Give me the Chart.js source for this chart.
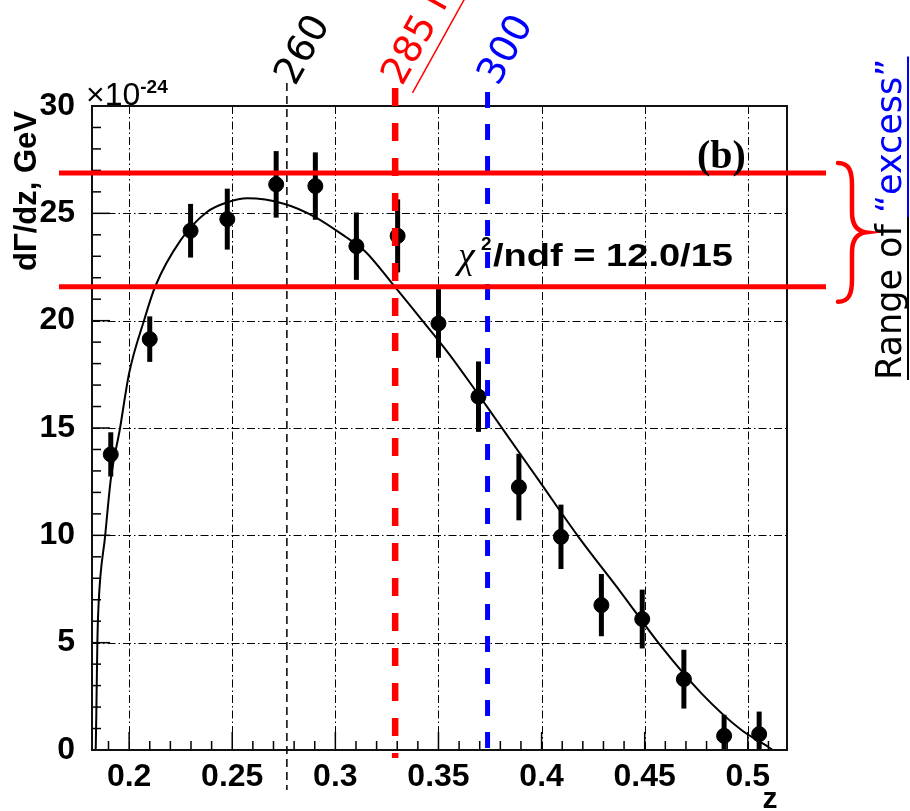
<!DOCTYPE html>
<html>
<head>
<meta charset="utf-8">
<script src="https://cdn.jsdelivr.net/npm/chart.js@4.4.1/dist/chart.umd.min.js"></script>
<style>
  html, body { margin: 0; padding: 0; background: #fff; }
  #wrap { width: 910px; height: 811px; }
</style>
</head>
<body>
<div id="wrap"><canvas id="myChart" width="910" height="811"></canvas></div>
<script>
// fit curve
const curveZ = [0.1838, 0.1841, 0.1846, 0.1852, 0.1884, 0.1911, 0.1955, 0.2000, 0.2073, 0.2126,
  0.2250, 0.2379, 0.2476, 0.2573, 0.2750, 0.2900, 0.3049, 0.3146, 0.3275, 0.3420,
  0.3549, 0.3678, 0.3742, 0.3985, 0.4178, 0.4388, 0.4581, 0.4775, 0.4969, 0.5098, 0.5120];
const curveY = [0, 1.7, 5.0, 6.8, 10.0, 12.6, 14.94, 17.55, 20.03, 21.58,
  23.75, 25.07, 25.51, 25.70, 25.45, 24.84, 23.91, 23.21, 21.74, 20.03,
  18.48, 16.77, 15.90, 12.58, 9.94, 7.30, 4.81, 2.64, 0.93, 0.15, 0];

// measured points with errors
const pointZ = [0.1911, 0.2100, 0.2298, 0.2476, 0.2713, 0.2903, 0.3102, 0.3302, 0.3500,
  0.3694, 0.3890, 0.4094, 0.4290, 0.4488, 0.4690, 0.4885, 0.5055];
const pointY = [13.77, 19.14, 24.19, 24.73, 26.35, 26.27, 23.47, 23.95, 19.87,
  16.46, 12.25, 9.93, 6.75, 6.10, 3.30, 0.66, 0.74];
const pointErr = [1.03, 1.06, 1.25, 1.42, 1.55, 1.57, 1.57, 1.70, 1.60,
  1.64, 1.55, 1.50, 1.45, 1.37, 1.37, 0.98, 1.05];

const xTicks = [0.2, 0.25, 0.3, 0.35, 0.4, 0.45, 0.5];
const xTickLabels = ['0.2', '0.25', '0.3', '0.35', '0.4', '0.45', '0.5'];
const yTicks = [0, 5, 10, 15, 20, 25, 30];
const yTickLabels = ['0', '5', '10', '15', '20', '25', '30'];

// mass markers and the "excess" band
const markZ = [0.2765, 0.329, 0.3738];
const markLabels = ['260', '285 MeV', '300'];
const markColors = ['#000000', '#ff0000', '#0000ff'];
const rangeY = [26.88, 21.58];

function line(ctx, x1, y1, x2, y2) {
  ctx.beginPath();
  ctx.moveTo(x1, y1);
  ctx.lineTo(x2, y2);
  ctx.stroke();
}

function rotText(ctx, txt, x0, y0, color, deg, font) {
  ctx.save();
  ctx.translate(x0, y0);
  ctx.rotate(deg * Math.PI / 180);
  ctx.font = font;
  ctx.fillStyle = color;
  ctx.textAlign = 'left';
  ctx.textBaseline = 'alphabetic';
  ctx.fillText(txt, 0, 0);
  ctx.restore();
}

const decor = {
  id: 'decor',
  beforeDatasetsDraw(chart) {
    const { ctx, chartArea: a, scales: { x, y } } = chart;
    ctx.save();
    // dash-dot grid
    ctx.strokeStyle = '#000';
    ctx.lineWidth = 1;
    ctx.setLineDash([8, 3, 1.5, 3]);
    xTicks.forEach(v => {
      const px = Math.round(x.getPixelForValue(v)) + 0.5;
      line(ctx, px, a.top, px, a.bottom);
    });
    yTicks.forEach(v => {
      const py = Math.round(y.getPixelForValue(v)) + 0.5;
      line(ctx, a.left, py, a.right, py);
    });
    // minor ticks
    ctx.setLineDash([]);
    ctx.lineWidth = 1.5;
    for (let k = 19; k <= 51; k++) {
      const px = x.getPixelForValue(k / 100);
      line(ctx, px, a.bottom, px, a.bottom - (k % 5 ? 9 : 18));
    }
    for (let k = 0; k <= 30; k++) {
      const py = y.getPixelForValue(k);
      line(ctx, a.left, py, a.left + (k % 5 ? 9 : 18), py);
    }
    // error bars
    ctx.beginPath();
    ctx.rect(a.left, a.top, a.right - a.left, a.bottom - a.top);
    ctx.clip();
    ctx.lineWidth = 5;
    pointZ.forEach((z, i) => {
      const px = x.getPixelForValue(z);
      line(ctx, px, y.getPixelForValue(pointY[i] - pointErr[i]), px, y.getPixelForValue(pointY[i] + pointErr[i]));
    });
    ctx.restore();
  },
  afterDatasetsDraw(chart) {
    const { ctx, chartArea: a, scales: { x, y } } = chart;
    ctx.save();
    // frame
    ctx.strokeStyle = '#111';
    ctx.lineWidth = 2;
    ctx.strokeRect(a.left, a.top, a.right - a.left, a.bottom - a.top);

    // vertical mass lines
    const px0 = markZ.map(v => x.getPixelForValue(v));
    ctx.strokeStyle = markColors[0];
    ctx.lineWidth = 1.5;
    ctx.setLineDash([8, 5]);
    line(ctx, px0[0], 83, px0[0], 790);
    ctx.strokeStyle = markColors[1];
    ctx.lineWidth = 6.5;
    ctx.setLineDash([18, 17]);
    line(ctx, px0[1], 88, px0[1], 758);
    ctx.strokeStyle = markColors[2];
    ctx.lineWidth = 5;
    ctx.setLineDash([16, 16]);
    line(ctx, px0[2], 92, px0[2], 758);
    ctx.setLineDash([]);

    // red band lines
    ctx.strokeStyle = '#ff0000';
    ctx.lineWidth = 5;
    rangeY.forEach(v => {
      const py = y.getPixelForValue(v);
      line(ctx, 59, py, 826, py);
    });

    // brace
    const t = y.getPixelForValue(rangeY[0]) - 10;
    const b = y.getPixelForValue(rangeY[1]) + 15;
    const m = (t + b) / 2;
    ctx.lineWidth = 4.5;
    ctx.lineCap = 'round';
    ctx.beginPath();
    ctx.moveTo(838, t);
    ctx.bezierCurveTo(849, t, 852, t + 8, 852, t + 22);
    ctx.lineTo(852, m - 20);
    ctx.bezierCurveTo(852, m - 6, 858, m - 1, 866, m);
    ctx.bezierCurveTo(858, m + 1, 852, m + 6, 852, m + 20);
    ctx.lineTo(852, b - 22);
    ctx.bezierCurveTo(852, b - 8, 849, b, 838, b);
    ctx.stroke();
    ctx.lineCap = 'butt';

    // rotated mass labels
    const lf = '38px "DejaVu Sans"';
    rotText(ctx, markLabels[0], 295, 87, markColors[0], -61, lf);
    rotText(ctx, markLabels[1], 402, 87, markColors[1], -61, lf);
    rotText(ctx, markLabels[2], 498, 87, markColors[2], -61, lf);
    // underline of 285
    const ang = -61 * Math.PI / 180;
    ctx.strokeStyle = '#ff0000';
    ctx.lineWidth = 1.5;
    const ux = 402 + 12 * Math.sin(-ang), uy = 87 + 12 * Math.cos(ang);
    line(ctx, ux, uy, ux + 200 * Math.cos(ang), uy + 200 * Math.sin(ang));

    // axis titles
    ctx.fillStyle = '#000';
    ctx.save();
    ctx.translate(27, 191);
    ctx.rotate(-Math.PI / 2);
    ctx.font = 'bold 31px "Liberation Sans"';
    ctx.textAlign = 'center';
    ctx.textBaseline = 'middle';
    ctx.fillText('d\u0393/dz, GeV', 0, 0);
    ctx.restore();

    ctx.font = 'bold 30px "Liberation Sans"';
    ctx.textAlign = 'center';
    ctx.textBaseline = 'alphabetic';
    ctx.fillText('z', 770, 808);

    // exponent
    ctx.textAlign = 'left';
    ctx.font = '32px "Liberation Sans"';
    ctx.fillText('\u00d710', 86, 105);
    const ew = ctx.measureText('\u00d710').width;
    ctx.font = 'bold 19px "Liberation Sans"';
    ctx.fillText('-24', 86 + ew, 93);

    // (b)
    ctx.font = 'bold 40px "Liberation Serif"';
    ctx.fillText('(b)', 697, 168);

    // chi2
    ctx.font = 'italic 38px "Liberation Serif"';
    ctx.fillText('\u03c7', 458, 268);
    ctx.font = 'bold 19px "Liberation Sans"';
    ctx.fillText('2', 481, 250);
    ctx.font = 'bold 31px "Liberation Sans"';
    const ct = '/ndf = 12.0/15';
    const cw = ctx.measureText(ct).width;
    ctx.save();
    ctx.translate(493, 266);
    ctx.scale(240 / cw, 1);
    ctx.fillText(ct, 0, 0);
    ctx.restore();

    // side note
    ctx.save();
    ctx.translate(901, 380);
    ctx.rotate(-Math.PI / 2);
    ctx.font = '35px "DejaVu Sans"';
    ctx.textBaseline = 'alphabetic';
    ctx.fillStyle = '#000';
    ctx.fillText('Range of ', 0, 0);
    const w1 = ctx.measureText('Range of ').width;
    ctx.fillStyle = '#0000ff';
    ctx.fillText('\u201cexcess\u201d', w1, 0);
    const w2 = ctx.measureText('\u201cexcess\u201d').width;
    ctx.lineWidth = 2;
    ctx.strokeStyle = '#000';
    line(ctx, 0, 7, w1 - 4, 7);
    ctx.strokeStyle = '#0000ff';
    line(ctx, w1 - 4, 7, w1 + w2 + 2, 7);
    ctx.restore();

    ctx.restore();
  }
};

const ctx = document.getElementById('myChart').getContext('2d');
const myChart = new Chart(ctx, {
  type: 'scatter',
  data: {
    datasets: [{
      type: 'line',
      data: curveZ.map((z, i) => ({ x: z, y: curveY[i] })),
      borderColor: '#000',
      borderWidth: 2,
      pointRadius: 0,
      cubicInterpolationMode: 'monotone',
      fill: false
    }, {
      data: pointZ.map((z, i) => ({ x: z, y: pointY[i] })),
      backgroundColor: '#000',
      borderColor: '#000',
      pointRadius: 7.5,
      pointHoverRadius: 7.5
    }]
  },
  options: {
    responsive: false,
    animation: false,
    devicePixelRatio: 1,
    layout: { padding: { left: 0, top: 106, right: 123, bottom: 0 } },
    plugins: { legend: { display: false }, tooltip: { enabled: false } },
    scales: {
      x: {
        type: 'linear',
        min: 0.182,
        max: 0.519,
        afterBuildTicks: s => { s.ticks = xTicks.map(v => ({ value: v })); },
        afterFit: s => { s.height = 61; },
        grid: { display: false },
        border: { display: false },
        ticks: {
          autoSkip: false,
          maxRotation: 0,
          padding: 0,
          color: '#000',
          font: { family: 'Liberation Sans', weight: 'bold', size: 32 },
          callback: (v, i) => xTickLabels[i]
        }
      },
      y: {
        min: 0,
        max: 30,
        afterBuildTicks: s => { s.ticks = yTicks.map(v => ({ value: v })); },
        afterFit: s => { s.width = 92; },
        grid: { display: false },
        border: { display: false },
        ticks: {
          padding: 9,
          color: '#000',
          font: { family: 'Liberation Sans', weight: 'bold', size: 32 },
          callback: (v, i) => yTickLabels[i]
        }
      }
    }
  },
  plugins: [decor]
});
</script>
</body>
</html>
